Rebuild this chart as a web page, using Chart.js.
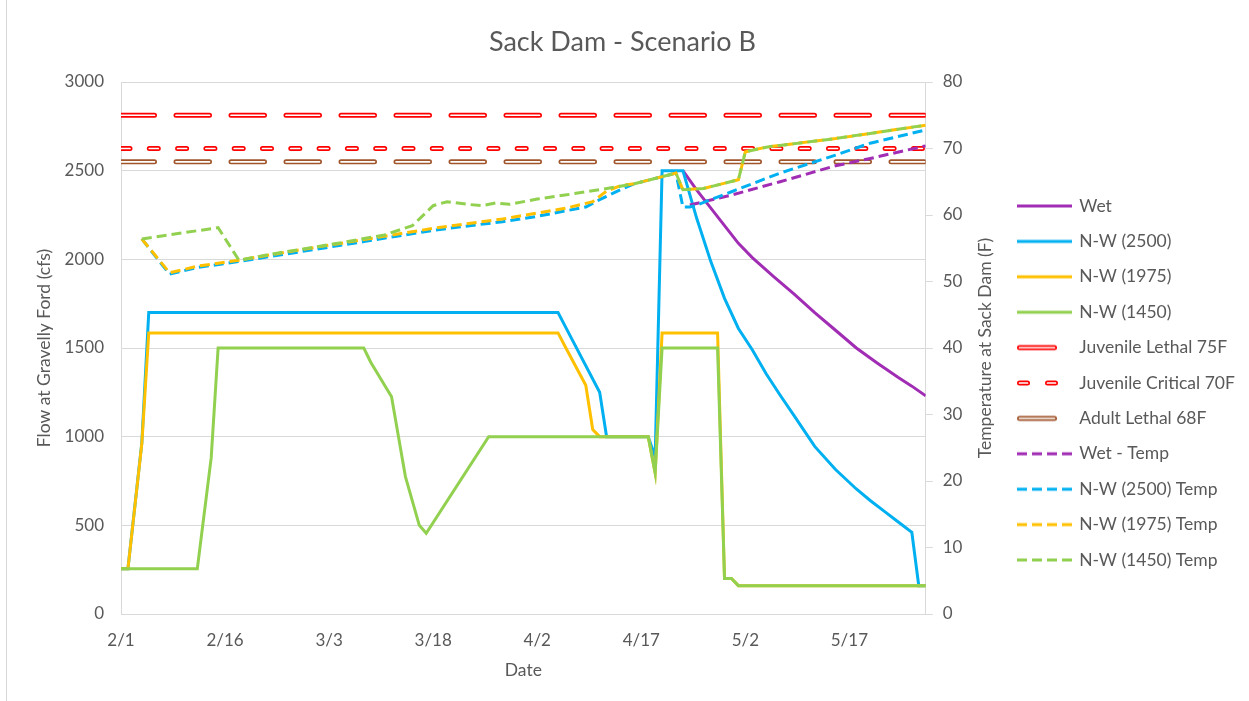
<!DOCTYPE html>
<html lang="en">
<head>
<meta charset="UTF-8">
<title>Sack Dam - Scenario B</title>
<script src="https://cdn.jsdelivr.net/npm/chart.js@4.4.0/dist/chart.umd.min.js"></script>
<style>
  body { margin: 0; background: #fff; }
  #wrap { position: relative; width: 1249px; height: 701px; }
  #edge { position: absolute; left: 6px; top: 0; width: 1px; height: 701px; background: #d9d9d9; }
</style>
</head>
<body>
<div id="wrap">
  <canvas id="chart" width="1249" height="701"></canvas>
  <div id="edge"></div>
</div>

<script>
    // x = days after 2/1, flows in cfs (left axis), temperatures in F (right axis)
    const tickLabels = ['2/1', '2/16', '3/3', '3/18', '4/2', '4/17', '5/2', '5/17'];
    const lastDay = 116;

    const wetDays = [81, 83, 85, 87, 89, 91, 94, 97, 100, 103, 106, 109, 112, 114, 116];
    const wetFlow = [2500, 2390, 2290, 2190, 2090, 2010, 1905, 1805, 1700, 1600, 1500, 1415, 1335, 1285, 1230];

    const nw2500Days = [0, 1, 3, 4, 63, 64, 69, 70, 76, 77, 78, 81, 83, 85, 87, 89, 91, 93, 95, 97, 100, 103, 106, 108, 110, 112, 114, 115, 116];
    const nw2500Flow = [255, 255, 965, 1700, 1700, 1625, 1250, 1000, 1000, 885, 2500, 2500, 2230, 1990, 1780, 1610, 1490, 1355, 1235, 1120, 945, 815, 705, 640, 580, 520, 460, 160, 160];

    const nw1975Days = [0, 1, 3, 4, 63, 64, 67, 68, 69, 76, 77, 78, 86, 87, 88, 89, 116];
    const nw1975Flow = [255, 255, 960, 1585, 1585, 1510, 1290, 1040, 1000, 1000, 795, 1585, 1585, 200, 200, 160, 160];

    const nw1450Days = [0, 11, 13, 14, 35, 36, 39, 40, 41, 43, 44, 53, 76, 77, 78, 86, 87, 88, 89, 116];
    const nw1450Flow = [255, 255, 880, 1500, 1500, 1420, 1225, 1000, 775, 500, 455, 1000, 1000, 795, 1500, 1500, 200, 200, 160, 160];

    const limitDays = [0, 116];
    const juvLethal = [75, 75];
    const juvCritical = [70, 70];
    const adultLethal = [68, 68];

    const wetTempDays = [82, 88, 95, 103, 108, 116];
    const wetTemp = [61.5, 63.0, 65.0, 67.4, 68.5, 70.4];

    const nw2500TempDays = [3, 7, 11, 17, 26, 35, 45, 55, 60, 67, 69, 72, 74, 80, 81, 82, 83, 88, 95, 103, 108, 116];
    const nw2500Temp = [56.4, 51.1, 52.1, 53.0, 54.5, 56.0, 57.7, 59.0, 59.8, 61.2, 62.3, 63.8, 64.7, 66.3, 61.2, 61.2, 61.5, 63.5, 66.3, 69.0, 70.8, 72.8];

    const nw1975TempDays = [3, 7, 11, 17, 26, 35, 45, 55, 64, 68, 70, 72, 74, 80, 81, 84, 89, 90, 93, 103, 116];
    const nw1975Temp = [56.4, 51.3, 52.3, 53.2, 54.8, 56.3, 58.0, 59.4, 61.0, 62.0, 63.6, 64.4, 64.7, 66.3, 63.8, 64.0, 65.3, 69.5, 70.2, 71.5, 73.5];

    const nw1450TempDays = [3, 14, 17, 21, 31, 38, 42, 45, 47, 50, 52, 54, 56, 60, 64, 69, 74, 80, 81, 84, 89, 90, 93, 103, 116];
    const nw1450Temp = [56.4, 58.1, 53.2, 54.0, 55.7, 57.0, 58.4, 61.4, 62.0, 61.6, 61.4, 61.8, 61.6, 62.4, 63.0, 63.8, 64.7, 66.3, 63.8, 64.0, 65.3, 69.5, 70.2, 71.5, 73.5];

    const PURPLE = '#A12DB4', BLUE = '#00B0F0', GOLD = '#FFC000', GREEN = '#92D050';
    const RED = '#FF0000', BROWN = '#A0552B', TEXT = '#595959', GRID = '#D9D9D9';
    const FONT = 'Lato, sans-serif';
    const LEGEND_SIZE = 17.5;

    function pts(days, vals) {
        return days.map((d, i) => ({x: d, y: vals[i]}));
    }

    // little pictures for the legend
    function icon(kind, color) {
        const c = document.createElement('canvas');
        c.width = 55; c.height = 10;
        const g = c.getContext('2d');
        g.strokeStyle = color;
        if (kind === 'solid' || kind === 'dash') {
            g.lineWidth = 3;
            if (kind === 'dash') g.setLineDash([10, 5]);
            g.beginPath(); g.moveTo(0, 5); g.lineTo(55, 5); g.stroke();
        } else {
            const segs = kind === 'long' ? [[2.5, 37.5]] : [[2.5, 10.5], [30.5, 38.5]];
            g.lineCap = 'round';
            [[5, color], [1.7, '#fff']].forEach(([w, col]) => {
                g.lineWidth = w; g.strokeStyle = col;
                segs.forEach(([a, b]) => { g.beginPath(); g.moveTo(a, 5); g.lineTo(b, 5); g.stroke(); });
            });
        }
        return c;
    }

    const icons = {};

    function flowLine(label, days, vals, color) {
        icons[label] = icon('solid', color);
        return {label, data: pts(days, vals), yAxisID: 'y', borderColor: color, backgroundColor: color, borderWidth: 3};
    }
    function tempLine(label, days, vals, color) {
        icons[label] = icon('dash', color);
        return {label, data: pts(days, vals), yAxisID: 'y1', borderColor: color, backgroundColor: color,
            borderWidth: 3, borderDash: [10, 5]};
    }
    function limitLine(label, vals, color, dash, kind) {
        icons[label] = icon(kind, color);
        return [
            {label, data: pts(limitDays, vals), yAxisID: 'y1', borderColor: color, backgroundColor: color,
                borderWidth: 5, borderDash: dash, borderCapStyle: 'round'},
            {label: label + ' inner', inner: true, data: pts(limitDays, vals), yAxisID: 'y1', borderColor: '#fff',
                borderWidth: 1.7, borderDash: dash, borderCapStyle: 'round'}
        ];
    }

    const datasets = [
        flowLine('Wet', wetDays, wetFlow, PURPLE),
        flowLine('N-W (2500)', nw2500Days, nw2500Flow, BLUE),
        flowLine('N-W (1975)', nw1975Days, nw1975Flow, GOLD),
        flowLine('N-W (1450)', nw1450Days, nw1450Flow, GREEN),
        ...limitLine('Juvenile Lethal 75F', juvLethal, RED, [33.5, 21.5], 'long'),
        ...limitLine('Juvenile Critical 70F', juvCritical, RED, [9, 19.3], 'short'),
        ...limitLine('Adult Lethal 68F', adultLethal, BROWN, [33.5, 21.5], 'long'),
        tempLine('Wet - Temp', wetTempDays, wetTemp, PURPLE),
        tempLine('N-W (2500) Temp', nw2500TempDays, nw2500Temp, BLUE),
        tempLine('N-W (1975) Temp', nw1975TempDays, nw1975Temp, GOLD),
        tempLine('N-W (1450) Temp', nw1450TempDays, nw1450Temp, GREEN)
    ];
    // later series sit on top, like the spreadsheet
    datasets.forEach((d, i) => { d.order = 100 - i; });

    // legend placement: sample lines start near x=1018
    const legendPad = 35.4 - LEGEND_SIZE;
    const legendLeft = 1000.6;
    const m = document.createElement('canvas').getContext('2d');
    m.font = LEGEND_SIZE + 'px ' + FONT;
    const widest = Math.max(...Object.keys(icons).map(t => m.measureText(t).width));
    const legendWidth = legendPad + 52 + LEGEND_SIZE / 2 + widest + 10;
    const padRight = Math.max(0, 1249 - legendLeft - legendWidth);
    const legendMax = 1249 - legendLeft - padRight;

    const rightTitle = {
        id: 'rightTitle',
        afterDraw(chart) {
            const s = chart.scales.y1, g = chart.ctx;
            g.save();
            g.translate(s.left + 59.3, (s.top + s.bottom) / 2);
            g.rotate(-Math.PI / 2);
            g.font = LEGEND_SIZE + 'px ' + FONT;
            g.fillStyle = TEXT;
            g.textAlign = 'center';
            g.textBaseline = 'middle';
            g.fillText('Temperature at Sack Dam (F)', 0, 0);
            g.restore();
        }
    };

    Chart.defaults.font.family = FONT;
    Chart.defaults.color = TEXT;

    new Chart(document.getElementById('chart'), {
        type: 'line',
        data: {datasets},
        plugins: [rightTitle],
        options: {
            responsive: false,
            animation: false,
            events: [],
            layout: {padding: {left: 0, right: padRight, top: 0, bottom: 0}},
            elements: {point: {radius: 0, hoverRadius: 0}, line: {tension: 0}},
            plugins: {
                tooltip: {enabled: false},
                title: {
                    display: true,
                    text: 'Sack Dam - Scenario B',
                    color: TEXT,
                    font: {size: 27, weight: 'normal'},
                    padding: {top: 25.8, bottom: 23.8}
                },
                legend: {
                    position: 'right',
                    align: 'start',
                    maxWidth: legendMax,
                    title: {display: true, text: '', font: {size: 12}, padding: {top: 164.95, bottom: 0}},
                    labels: {
                        usePointStyle: true,
                        pointStyleWidth: 52,
                        padding: legendPad,
                        color: TEXT,
                        font: {size: LEGEND_SIZE},
                        filter: (item, data) => !data.datasets[item.datasetIndex].inner,
                        generateLabels(chart) {
                            const items = Chart.defaults.plugins.legend.labels.generateLabels(chart);
                            items.sort((a, b) => a.datasetIndex - b.datasetIndex);
                            items.forEach(it => { if (icons[it.text]) it.pointStyle = icons[it.text]; });
                            return items;
                        }
                    }
                }
            },
            scales: {
                x: {
                    type: 'linear',
                    min: 0,
                    max: lastDay,
                    afterFit(s) { s.height = 87; },
                    grid: {display: false, drawTicks: false},
                    border: {display: true, color: GRID},
                    ticks: {
                        stepSize: 15,
                        includeBounds: false,
                        maxRotation: 0,
                        autoSkip: false,
                        padding: 16,
                        color: TEXT,
                        font: {size: 17},
                        callback: v => tickLabels[v / 15]
                    },
                    title: {display: true, text: 'Date', color: TEXT, font: {size: LEGEND_SIZE}, padding: {top: 0, bottom: 20.5}}
                },
                y: {
                    position: 'left',
                    min: 0,
                    max: 3000,
                    afterFit(s) { s.width = 121; },
                    grid: {color: GRID, drawTicks: false},
                    border: {display: true, color: GRID},
                    ticks: {stepSize: 500, padding: 17, color: TEXT, font: {size: 17}, callback: v => String(v)},
                    title: {display: true, text: 'Flow at Gravelly Ford (cfs)', color: TEXT,
                        font: {size: LEGEND_SIZE}, padding: {top: 33.5, bottom: 0}}
                },
                y1: {
                    position: 'right',
                    min: 0,
                    max: 80,
                    afterFit(s) { s.width = legendLeft - 925.7; },
                    grid: {drawOnChartArea: false, color: GRID, tickColor: GRID, tickLength: 7},
                    border: {display: true, color: GRID},
                    ticks: {stepSize: 10, padding: 10, color: TEXT, font: {size: 17}}
                }
            }
        }
    });
</script>
</body>
</html>
